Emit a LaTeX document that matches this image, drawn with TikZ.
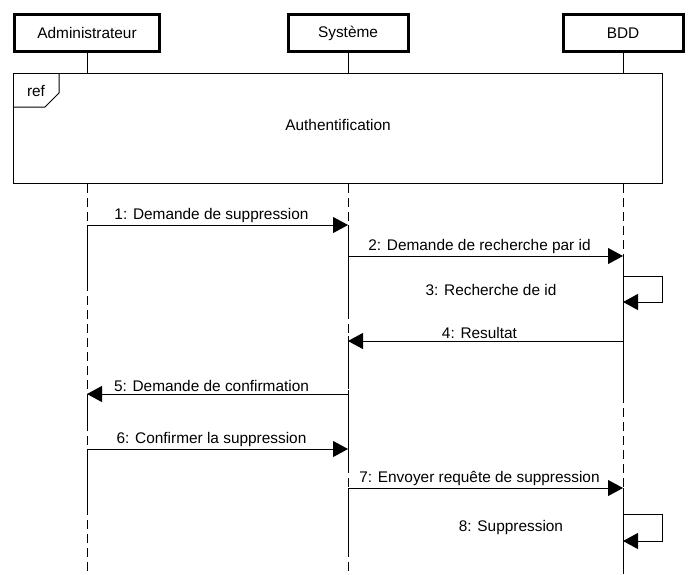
\documentclass[tikz,border=0pt]{standalone}
\usepackage{fontspec}
\setmainfont{Liberation Sans}
\usetikzlibrary{arrows.meta,positioning}

\begin{document}
\begin{tikzpicture}[x=1pt, y=-1pt,
  every node/.style={font=\fontsize{15.4}{18}\selectfont},
  actor/.style={draw, line width=3pt, minimum width=120pt, minimum height=37pt, inner sep=0pt},
  frame/.style={draw, line width=1pt, fill=white, minimum width=649pt, minimum height=110pt, inner sep=0pt},
  life/.style={line width=1pt, dash pattern=on 9pt off 5pt},
  active/.style={line width=1pt},
  msg/.style={line width=1pt, -{Triangle[length=15pt,width=16pt]}},
  lbl/.style={above, inner sep=2pt, xshift=-6pt}
]
\useasboundingbox (0,0) rectangle (696,574);
\coordinate (bottom) at (0,574);

\node[actor, minimum width=145pt] (adm) at (87,33) {Administrateur};
\node[actor] (sys) at (348,33) {Système};
\node[actor] (bdd) at (623,33) {BDD};

\node[frame] (ref) at (338,128.5) {};
\node[yshift=3.5pt] at (ref.center) {Authentification};
\draw[line width=1pt] (ref.north west) ++(0,34) -- ++(32,0) -- ++(14,-14) -- ++(0,-20);
\node at (36,91) {ref};

\foreach \n in {adm,sys,bdd} {
  \draw[active] (\n.south) -- (\n |- ref.north);
  \draw[life] (\n |- ref.south) -- (\n |- bottom);
}

\draw[active] (adm |- 0,225) -- (adm |- 0,285);
\draw[active] (adm |- 0,395) -- (adm |- 0,430);
\draw[active] (adm |- 0,449) -- (adm |- 0,515);
\draw[active] (sys |- 0,225) -- (sys |- 0,317);
\draw[active] (sys |- 0,336) -- (sys |- 0,380);
\draw[active] (sys |- 0,390) -- (sys |- 0,470);
\draw[active] (sys |- 0,488) -- (sys |- 0,555);
\draw[active] (bdd |- 0,256) -- (bdd |- 0,397);
\draw[active] (bdd |- 0,488) -- (bdd |- 0,574);

\draw[msg] (adm |- 0,225) -- (sys |- 0,225) node[lbl, midway] {1: Demande de suppression};
\draw[msg] (sys |- 0,256) -- (bdd |- 0,256) node[lbl, midway] {2: Demande de recherche par id};
\draw[msg] (bdd |- 0,276) -- ++(39,0) |- (bdd |- 0,302);
\node at (491,290) {3: Recherche de id};
\draw[msg] (bdd |- 0,341) -- (sys |- 0,341) node[lbl, midway] {4: Resultat};
\draw[msg] (sys |- 0,394) -- (adm |- 0,394) node[lbl, midway] {5: Demande de confirmation};
\draw[msg] (adm |- 0,449) -- (sys |- 0,449) node[lbl, midway] {6: Confirmer la suppression};
\draw[msg] (sys |- 0,488) -- (bdd |- 0,488) node[lbl, midway] {7: Envoyer requête de suppression};
\draw[msg] (bdd |- 0,514) -- ++(39,0) |- (bdd |- 0,541);
\node at (511,528) {8: Suppression};
\end{tikzpicture}
\end{document}
